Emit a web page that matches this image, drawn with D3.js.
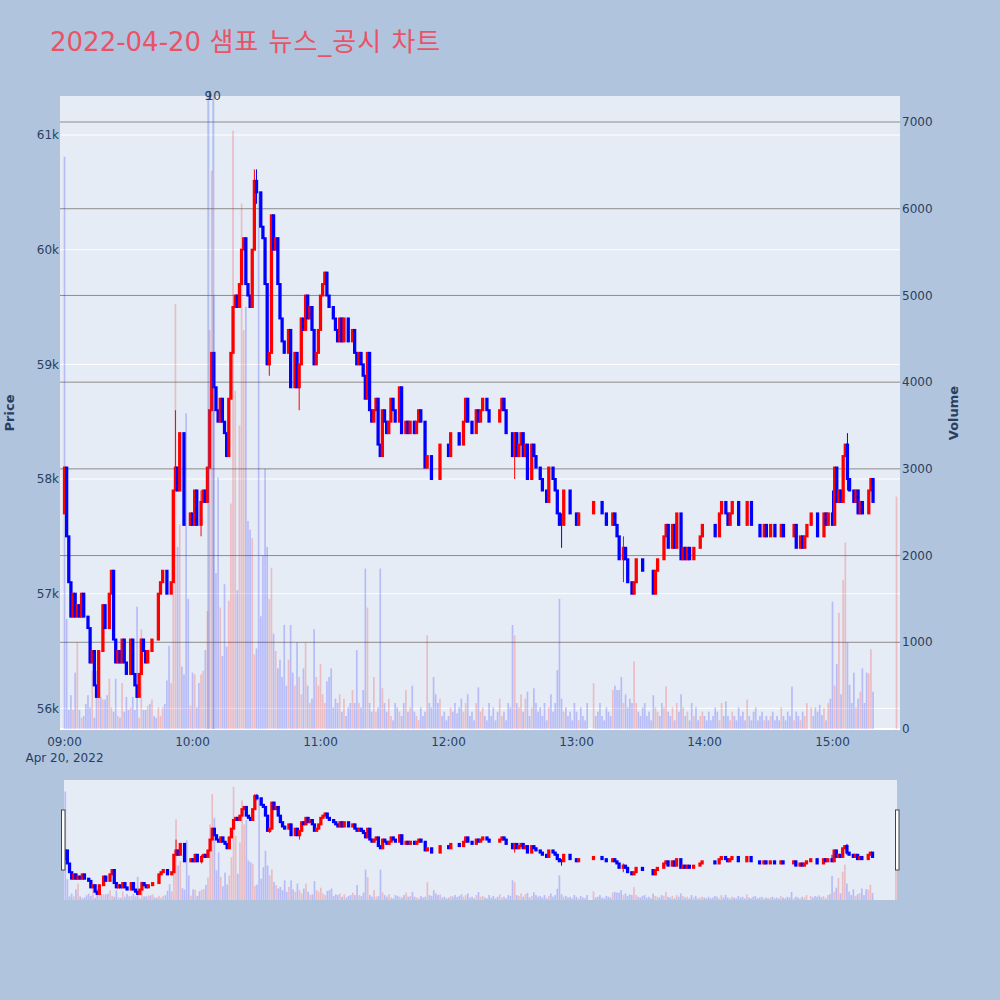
<!DOCTYPE html>
<html>
<head>
<meta charset="utf-8">
<script src="https://cdn.jsdelivr.net/npm/d3@7"></script>
<style>
  body { margin: 0; background: #b0c4de; }
  svg text { font-family: "DejaVu Sans", "Noto Sans CJK KR", sans-serif; fill: #2a3f5f; }
</style>
</head>
<body>
<div id="vis"></div>
<script>
// one close per minute from 09:00, in units of 100 won (null = no trade that minute)
let firstOpen = 577
let closes = [
  581,575,571,568,570,568,569,568,570,568, 568,567,564,565,562,561,565,565,569,567,
  567,570,572,566,564,565,564,566,564,563, 563,566,563,562,561,563,566,565,564,565,
  565,566,566,566,570,571,572,572,570,570, 571,579,581,579,584,584,576,576,576,577,
  576,579,576,576,578,579,578,581,586,591, 588,586,585,587,585,584,582,587,591,595,
  596,595,597,600,601,597,596,595,600,606, 605,605,602,601,597,590,591,603,600,601,
  597,594,592,591,591,593,588,588,591,588, 590,594,593,596,594,595,593,590,591,593,
  596,597,598,596,595,595,594,593,592,594, 592,594,594,592,592,593,591,590,591,590,
  589,587,591,586,585,586,587,583,582,586, 585,584,585,587,586,585,585,588,584,584,
  585,584,585,585,584,585,586,585,585,581, 582,582,580,580,580,580,583,583,583,583,
  582,584,584,584,584,583,583,585,587,585, 585,584,584,586,585,586,587,587,586,585,
  585,585,585,585,586,587,586,584,584,584, 582,584,582,583,584,582,583,580,580,583,
  582,581,581,580,579,579,578,581,581,580, 579,577,576,576,579,579,579,577,577,577,
  576,577,577,577,577,577,null,null,578,578, 578,578,577,577,576,576,576,577,576,575,
  573,573,574,573,571,571,570,571,573,573, 573,572,572,572,572,572,570,572,573,573,
  573,575,576,574,574,576,574,577,577,573, 574,573,574,573,573,574,574,574,575,576,
  576,576,576,576,576,575,575,577,578,578, 577,576,577,578,578,578,576,576,576,576,
  578,578,576,576,576,576,575,575,576,575, 575,576,576,575,575,575,576,575,575,575,
  575,575,576,574,574,575,574,575,576,null, 577,577,577,575,575,575,577,576,577,577,
  576,581,578,579,578,582,583,580,579,579, 578,579,577,578,577,577,577,579,580,578
]
let volumes = [
  6600,1270,220,390,220,650,1000,220,130,150, 290,390,250,670,130,670,460,370,340,340,
  390,580,250,200,580,150,130,530,200,370, 220,250,370,220,1410,130,1150,220,220,270,
  290,340,150,130,250,150,250,290,560,960, 530,1670,4900,2100,2360,720,630,3640,1500,270,
  650,630,250,530,630,670,910,1360,4600,6440, 5000,1800,2900,1400,840,1670,950,1480,2600,6900,
  3900,1600,3500,6060,4600,4870,2400,2300,2200,860, 930,6200,1300,2000,3000,2100,1500,1860,1100,900,
  700,800,600,1200,500,800,1200,650,500,1000, 600,400,700,1000,500,300,350,1150,600,500,
  750,400,300,550,600,700,250,350,300,400, 200,350,150,250,300,450,300,910,300,250,
  450,1850,1400,300,200,600,200,250,1850,470, 300,200,350,150,100,300,250,200,150,300,
  450,200,250,500,200,150,100,250,150,200, 1080,300,250,600,400,300,350,150,200,100,
  150,250,200,300,180,250,350,200,300,400, 150,200,100,300,480,200,250,150,100,300,
  150,250,100,200,350,150,200,100,300,250, 1200,1080,300,250,400,200,350,430,150,250,
  470,300,200,250,150,300,100,250,400,200, 300,680,1500,350,200,250,150,200,100,300,
  200,100,250,150,100,300,0,0,530,150, 200,300,150,100,250,200,150,450,500,450,
  450,600,300,400,250,350,300,780,300,200, 150,250,300,150,200,100,390,250,200,150,
  300,250,490,200,150,250,100,300,200,400, 250,150,200,100,300,150,250,100,150,200,
  150,100,200,100,150,250,200,100,300,150, 320,150,100,200,150,100,250,150,200,100,
  340,150,100,200,250,100,150,200,100,150, 100,150,200,100,150,100,250,150,100,200,
  150,490,100,200,150,100,200,150,300,0, 250,150,250,200,280,160,240,100,300,350,
  1470,500,750,1340,400,1720,2150,1000,510,300, 650,250,350,430,700,300,650,640,920,430
]
// [minute, high, low] where a wick sticks out of the body
let wicks = [[52, 586, 579], [64, 579, 575], [89, 607, 600], [90, 607, 604], [96, 591, 589],
  [110, 590, 586], [211, 584, 580], [233, 577, 574], [262, 575, 571], [360, 579, 576], [367, 584, 579]]
// closing auction at 15:30
let auction = { minute: 390, price: 579, volume: 2680 }
let news = [{ label: '9', time: [10, 7, 24] }, { label: '10', time: [10, 9, 45] }]
let priceTicks = [56000, 57000, 58000, 59000, 60000, 61000]
let volumeTicks = [0, 1000, 2000, 3000, 4000, 5000, 6000, 7000]

let t0 = new Date(2022, 3, 20, 9, 0)
let minuteToTime = m => new Date(t0.getTime() + m * 60000)

// build candles, open = previous close
let candles = []
let prev = firstOpen * 100, prevUp = true, first = true
closes.forEach((c, i) => {
  if (c === null) return
  let close = c * 100, open = prev
  let up = close > open ? true : close < open ? false : prevUp
  let w = wicks.find(d => d[0] === i)
  candles.push({
    time: minuteToTime(i), open: open, close: close, volume: volumes[i], up: up,
    volUp: !first && close > prev,
    high: w ? w[1] * 100 : Math.max(open, close),
    low: w ? w[2] * 100 : Math.min(open, close)
  })
  prev = close; prevUp = up; first = false
})
candles.push({
  time: minuteToTime(auction.minute), open: auction.price * 100, close: auction.price * 100,
  high: auction.price * 100, low: auction.price * 100, volume: auction.volume,
  up: auction.price * 100 >= prev, volUp: auction.price * 100 > prev
})

let svg = d3.select('#vis')
  .append('svg')
  .attr('width', 1000)
  .attr('height', 1000)
  .style('background-color', '#b0c4de')

// main plot scales
let x = d3.scaleTime()
  .domain([new Date(2022, 3, 20, 8, 57, 53), new Date(2022, 3, 20, 15, 31, 38)])
  .range([60, 900])
let y = d3.scaleLinear().domain([55820, 61340]).range([729, 96])
let yv = d3.scaleLinear().domain([0, 7300]).range([729, 96])

// range slider scales
let xs = d3.scaleTime()
  .domain([new Date(2022, 3, 20, 8, 59, 24), new Date(2022, 3, 20, 15, 30, 30)])
  .range([64, 897])
let ys = d3.scaleLinear().domain(y.domain()).range([900, 780])
let yvs = d3.scaleLinear().domain(yv.domain()).range([900, 780])

let title = svg.append('text')
  .attr('x', 50).attr('y', 51)
  .style('font-size', '26px')
  .style('fill', 'rgb(234,82,102)')
title.append('tspan').style('fill', 'rgb(234,82,102)').text('2022-04-20 ')
title.append('tspan').style('fill', 'rgb(234,82,102)').style('letter-spacing', '1px').text('샘표 뉴스_공시 차트')

svg.append('defs').append('clipPath').attr('id', 'plotclip')
  .append('rect').attr('x', 60).attr('y', 96).attr('width', 840).attr('height', 633)

svg.append('rect')
  .attr('x', 60).attr('y', 96).attr('width', 840).attr('height', 633)
  .attr('fill', '#e5ecf6')

// gridlines
svg.append('g').selectAll('line').data(priceTicks).join('line')
  .attr('x1', 60).attr('x2', 900)
  .attr('y1', d => y(d)).attr('y2', d => y(d))
  .attr('stroke', '#ffffff').attr('stroke-width', 1)
svg.append('g').selectAll('line').data(volumeTicks.filter(d => d > 0)).join('line')
  .attr('x1', 60).attr('x2', 900)
  .attr('y1', d => yv(d)).attr('y2', d => yv(d))
  .attr('stroke', '#8c8c8c').attr('stroke-width', 1)
svg.append('line')
  .attr('x1', 60).attr('x2', 900).attr('y1', yv(0)).attr('y2', yv(0))
  .attr('stroke', '#ffffff').attr('stroke-width', 2)

function drawTraces(g, x, y, yv) {
  let mpx = x(minuteToTime(1)) - x(minuteToTime(0))
  let color = d => d.up ? '#ff0000' : '#0000ff'
  g.selectAll('rect.vol').data(candles).join('rect')
    .attr('class', 'vol')
    .attr('x', d => x(d.time) - 0.4 * mpx)
    .attr('width', 0.8 * mpx)
    .attr('y', d => yv(d.volume))
    .attr('height', d => yv(0) - yv(d.volume))
    .attr('fill', d => d.volUp ? 'rgba(255,0,0,0.2)' : 'rgba(0,0,255,0.2)')
  g.selectAll('line.wick').data(candles.filter(d => d.high > Math.max(d.open, d.close) || d.low < Math.min(d.open, d.close))).join('line')
    .attr('class', 'wick')
    .attr('x1', d => x(d.time)).attr('x2', d => x(d.time))
    .attr('y1', d => y(d.high)).attr('y2', d => y(d.low))
    .attr('stroke', color).attr('stroke-width', 1)
  g.selectAll('rect.body').data(candles).join('rect')
    .attr('class', 'body')
    .attr('x', d => x(d.time) - 0.3 * mpx)
    .attr('width', 0.6 * mpx)
    .attr('y', d => y(Math.max(d.open, d.close)))
    .attr('height', d => y(Math.min(d.open, d.close)) - y(Math.max(d.open, d.close)))
    .attr('fill', color).attr('stroke', color).attr('stroke-width', 2)
}

let plot = svg.append('g').attr('clip-path', 'url(#plotclip)')
drawTraces(plot, x, y, yv)

// news markers
let newsX = d => x(new Date(2022, 3, 20, ...d.time))
plot.selectAll('line.news').data(news).join('line')
  .attr('class', 'news')
  .attr('x1', newsX).attr('x2', newsX)
  .attr('y1', 96).attr('y2', 729)
  .attr('stroke', 'rgba(60,90,220,0.3)').attr('stroke-width', 2)
svg.append('g').selectAll('text').data(news).join('text')
  .attr('x', newsX)
  .attr('y', 96).attr('dy', '0.35em')
  .attr('text-anchor', 'middle')
  .style('font-size', '12px')
  .text(d => d.label)

// axes labels
svg.append('g').selectAll('text').data(priceTicks).join('text')
  .attr('x', 59).attr('y', d => y(d)).attr('dy', '0.35em')
  .attr('text-anchor', 'end')
  .style('font-size', '12px')
  .text(d => d / 1000 + 'k')
svg.append('g').selectAll('text').data(volumeTicks).join('text')
  .attr('x', 902).attr('y', d => yv(d)).attr('dy', '0.35em')
  .style('font-size', '12px')
  .text(d => d)
svg.append('g').selectAll('text').data(x.ticks(d3.timeHour.every(1))).join('text')
  .attr('x', d => x(d)).attr('y', 746)
  .attr('text-anchor', 'middle')
  .style('font-size', '12px')
  .text(d3.timeFormat('%H:%M'))
svg.append('text')
  .attr('x', x(t0)).attr('y', 762)
  .attr('text-anchor', 'middle')
  .style('font-size', '12px')
  .text('Apr 20, 2022')
svg.append('text')
  .attr('transform', 'translate(14,413) rotate(-90)')
  .attr('text-anchor', 'middle')
  .style('font-size', '13px').style('font-weight', 'bold')
  .text('Price')
svg.append('text')
  .attr('transform', 'translate(958,413) rotate(-90)')
  .attr('text-anchor', 'middle')
  .style('font-size', '13px').style('font-weight', 'bold')
  .text('Volume')

// range slider
svg.append('rect')
  .attr('x', 64).attr('y', 780).attr('width', 833).attr('height', 120)
  .attr('fill', '#e5ecf6')
drawTraces(svg.append('g'), xs, ys, yvs)
svg.append('g').selectAll('rect').data([61.5, 895.5]).join('rect')
  .attr('x', d => d).attr('y', 810).attr('width', 3.5).attr('height', 60)
  .attr('fill', '#ffffff').attr('stroke', '#444444').attr('stroke-width', 1)
</script>
</body>
</html>
